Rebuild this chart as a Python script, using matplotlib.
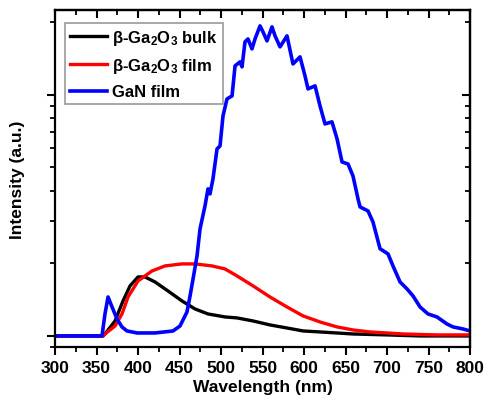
import matplotlib
matplotlib.use("Agg")
import matplotlib.pyplot as plt
from matplotlib.ticker import LogLocator, MultipleLocator, NullFormatter

plt.rcParams['font.family'] = ['Liberation Sans', 'DejaVu Sans']
plt.rcParams['font.weight'] = 'bold'
plt.rcParams['mathtext.fontset'] = 'custom'
plt.rcParams['mathtext.rm'] = 'Liberation Sans:bold'
plt.rcParams['mathtext.bf'] = 'Liberation Sans:bold'
plt.rcParams['mathtext.it'] = 'Liberation Sans:bold'

# beta-Ga2O3 bulk
wl_bulk = [300, 357.8, 360.2, 372.3, 381.9, 390.4, 400.0, 408.4, 420.5, 436.1,
           453.0, 468.7, 484.3, 504.8, 519.3, 538.6, 559.0, 579.5, 598.8, 619.3,
           659.0, 700.0, 739.8, 800]
int_bulk = [1.0, 1.0, 1.019, 1.154, 1.397, 1.613, 1.757, 1.757, 1.675, 1.537,
            1.397, 1.294, 1.234, 1.199, 1.188, 1.154, 1.111, 1.079, 1.049, 1.039,
            1.019, 1.010, 1.0, 1.0]

# beta-Ga2O3 film
wl_film = [300, 357.8, 360.2, 372.3, 380.7, 388.0, 400.0, 416.9, 432.5, 453.0,
           468.7, 489.2, 504.8, 519.3, 538.6, 559.0, 579.5, 598.8, 619.3, 639.8,
           659.0, 679.5, 700.0, 719.3, 760.2, 800]
int_film = [1.0, 1.0, 1.019, 1.100, 1.234, 1.451, 1.691, 1.861, 1.952, 1.990,
            1.990, 1.952, 1.897, 1.774, 1.613, 1.451, 1.319, 1.211, 1.143, 1.090,
            1.059, 1.039, 1.029, 1.019, 1.010, 1.010]

# GaN film
wl_gan = [300, 356.6, 360.2, 363.9, 368.7, 374.7, 380.7, 386.7, 398.8, 420.5,
          442.2, 450.6, 459.0, 462.7, 466.3, 471.1, 474.7, 480.7, 484.3, 486.7,
          490.3, 495.2, 498.8, 502.4, 507.2, 513.3, 516.9, 522.9, 525.3, 528.9,
          532.5, 537.3, 541.0, 547.0, 550.6, 555.4, 561.4, 565.1, 571.1, 579.5,
          586.7, 595.2, 601.2, 604.8, 613.3, 619.3, 625.3, 633.7, 639.8, 645.8,
          653.0, 659.0, 665.1, 667.5, 677.1, 683.1, 691.6, 701.2, 707.2, 715.7,
          724.1, 731.3, 739.8, 749.4, 760.2, 772.3, 779.5, 791.6, 800]
int_gan = [1.0, 1.0, 1.234, 1.451, 1.319, 1.176, 1.090, 1.049, 1.029, 1.029,
           1.049, 1.100, 1.258, 1.466, 1.724, 2.148, 2.780, 3.461, 4.074, 3.884,
           4.479, 5.970, 6.140, 8.183, 9.619, 9.907, 13.19, 13.71, 13.07, 16.59,
           17.07, 15.52, 17.07, 19.33, 18.25, 16.75, 19.15, 17.57, 15.82, 17.57,
           13.44, 14.38, 11.99, 10.59, 10.90, 9.00, 7.58, 7.73, 6.57, 5.27,
           5.17, 4.61, 3.70, 3.43, 3.30, 2.97, 2.30, 2.19, 1.952, 1.675,
           1.567, 1.466, 1.319, 1.234, 1.199, 1.121, 1.090, 1.069, 1.049]

fig = plt.figure(figsize=(4.86, 4.06), dpi=100)
ax = fig.add_axes([0.1132, 0.1429, 0.8539, 0.830])

ax.plot(wl_bulk, int_bulk, color='black', lw=2.4, label=r'β-Ga$_2$O$_3$ bulk')
ax.plot(wl_film, int_film, color='#ff0000', lw=2.4, label=r'β-Ga$_2$O$_3$ film')
ax.plot(wl_gan, int_gan, color='#0000ff', lw=2.6, label='GaN film')

ax.set_yscale('log')
ax.set_xlim(300, 800)
ax.set_ylim(0.9, 22.5)
ax.xaxis.set_major_locator(MultipleLocator(50))
ax.xaxis.set_minor_locator(MultipleLocator(25))
ax.yaxis.set_major_locator(LogLocator(base=10, numticks=10))
ax.yaxis.set_minor_locator(LogLocator(base=10, subs=range(2, 10), numticks=10))
ax.yaxis.set_major_formatter(NullFormatter())
ax.yaxis.set_minor_formatter(NullFormatter())

for s in ax.spines.values():
    s.set_linewidth(1.6)
ax.tick_params(axis='both', which='major', direction='out', length=6, width=1.5,
               labelsize=12.5)
ax.tick_params(axis='both', which='minor', direction='out', length=3.5, width=1.3)

# mirrored axes, ticks pointing into the plot
sec_x = ax.secondary_xaxis('top')
sec_x.xaxis.set_major_locator(MultipleLocator(50))
sec_x.xaxis.set_minor_locator(MultipleLocator(25))
sec_x.tick_params(which='both', direction='in', labeltop=False)
sec_x.tick_params(which='major', length=6, width=1.5)
sec_x.tick_params(which='minor', length=3.5, width=1.3)
sec_y = ax.secondary_yaxis('right')
sec_y.yaxis.set_major_locator(LogLocator(base=10, numticks=10))
sec_y.yaxis.set_minor_locator(LogLocator(base=10, subs=range(2, 10), numticks=10))
sec_y.yaxis.set_major_formatter(NullFormatter())
sec_y.yaxis.set_minor_formatter(NullFormatter())
sec_y.tick_params(which='both', direction='in')
sec_y.tick_params(which='major', length=6, width=1.5)
sec_y.tick_params(which='minor', length=3.5, width=1.3)
for s in list(sec_x.spines.values()) + list(sec_y.spines.values()):
    s.set_linewidth(1.6)

ax.set_xlabel('Wavelength (nm)', fontsize=12.5, fontweight='bold', labelpad=3)
ax.set_ylabel('Intensity (a.u.)', fontsize=12.5, fontweight='bold', labelpad=12)

leg = ax.legend(loc='upper left', bbox_to_anchor=(0.024, 0.96), fontsize=12,
                frameon=True, fancybox=False, edgecolor='#808080',
                handlelength=2.25, labelspacing=0.55, borderpad=0.28,
                handletextpad=0.3, borderaxespad=0)
leg.get_frame().set_linewidth(1.2)
for t in leg.get_texts():
    t.set_fontweight('bold')

fig.savefig('out.png', dpi=100)
